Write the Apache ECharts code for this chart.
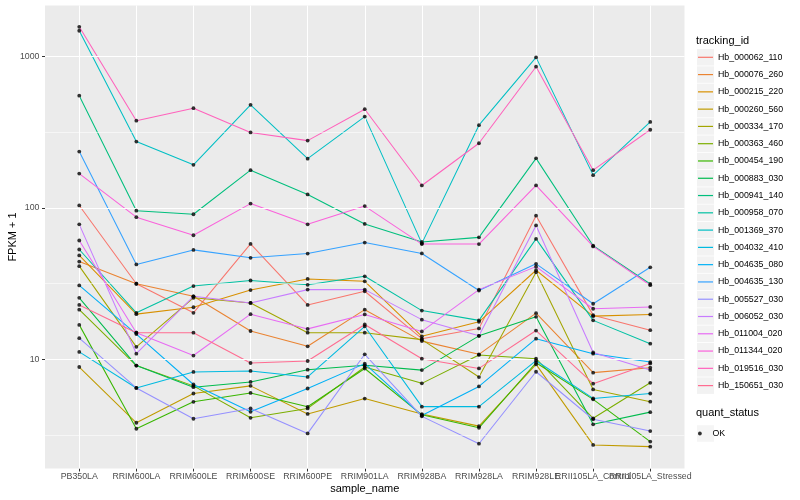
<!DOCTYPE html>
<html><head><meta charset="utf-8">
<script src="https://cdn.jsdelivr.net/npm/echarts/dist/echarts.min.js"></script>
<style>html,body{margin:0;padding:0;background:#fff}#c{width:800px;height:500px}</style>
</head><body><div id="c"></div>
<script>
const categories = ['PB350LA','RRIM600LA','RRIM600LE','RRIM600SE','RRIM600PE','RRIM901LA','RRIM928BA','RRIM928LA','RRIM928LE','RRII105LA_Control','RRII105LA_Stressed'];
const trackingIds = ['Hb_000062_110','Hb_000076_260','Hb_000215_220','Hb_000260_560','Hb_000334_170','Hb_000363_460','Hb_000454_190','Hb_000883_030','Hb_000941_140','Hb_000958_070','Hb_001369_370','Hb_004032_410','Hb_004635_080','Hb_004635_130','Hb_005527_030','Hb_006052_030','Hb_011004_020','Hb_011344_020','Hb_019516_030','Hb_150651_030'];

const Hb_000062_110 = [104, 31.6, 20.3, 57.9, 22.9, 28.2, 13.7, 16.0, 89, 19.6, 15.6];
const Hb_000076_260 = [44.3, 31.6, 26.1, 15.4, 12.2, 21.3, 13.2, 10.8, 20.2, 8.17, 8.8];
const Hb_000215_220 = [48.6, 19.9, 22.1, 28.7, 34.0, 32.8, 14.2, 17.7, 38.8, 19.3, 19.8];
const Hb_000260_560 = [8.9, 3.81, 5.95, 6.68, 4.36, 5.51, 4.35, 3.62, 9.26, 2.72, 2.65];
const Hb_000334_170 = [41.3, 12.1, 25.5, 23.6, 15.0, 15.0, 13.5, 7.64, 37.6, 6.33, 5.25];
const Hb_000363_460 = [21.3, 9.1, 6.68, 4.11, 4.74, 8.9, 6.94, 10.7, 10.1, 4.08, 7.0];
const Hb_000454_190 = [16.9, 3.48, 5.24, 6.0, 4.86, 8.7, 4.3, 3.53, 9.5, 5.44, 2.86];
const Hb_000883_030 = [25.5, 9.1, 6.55, 7.09, 8.55, 9.13, 8.49, 14.3, 19.1, 3.72, 4.48];
const Hb_000941_140 = [553, 96, 91, 178, 123, 78.5, 59.7, 64, 213, 56.4, 31.5];
const Hb_000958_070 = [53.2, 20.3, 30.5, 33.2, 31.1, 35.4, 21.0, 18.1, 62.5, 18.1, 12.7];
const Hb_001369_370 = [1484, 275, 193, 481, 212, 402, 58.4, 353, 990, 165, 371];
const Hb_004032_410 = [11.2, 6.47, 8.26, 8.38, 7.65, 16.5, 4.87, 4.87, 9.8, 5.52, 5.95];
const Hb_004635_080 = [30.8, 14.7, 6.82, 4.5, 6.42, 9.37, 4.25, 6.62, 13.7, 10.9, 9.6];
const Hb_004635_130 = [236, 42.4, 52.9, 46.9, 50.0, 59.1, 50.1, 28.5, 42.8, 23.3, 40.6];
const Hb_005527_030 = [13.8, 6.47, 4.05, 4.74, 3.24, 10.8, 4.2, 2.77, 8.28, 4.02, 3.36];
const Hb_006052_030 = [78, 10.9, 26.1, 23.6, 28.9, 28.9, 18.3, 14.3, 76.7, 11.1, 8.5];
const Hb_011004_020 = [61, 15.0, 10.6, 19.9, 15.9, 19.8, 15.3, 28.9, 41.0, 21.6, 22.2];
const Hb_011344_020 = [169, 87, 66.1, 107, 78, 103, 57.8, 57.8, 141, 55.8, 30.9];
const Hb_019516_030 = [1577, 378, 457, 316, 279, 450, 141, 268, 859, 178, 329];
const Hb_150651_030 = [22.9, 15.0, 15.0, 9.46, 9.75, 17.0, 10.1, 8.71, 15.5, 6.91, 9.4];

const seriesValues = [Hb_000062_110, Hb_000076_260, Hb_000215_220, Hb_000260_560, Hb_000334_170, Hb_000363_460, Hb_000454_190, Hb_000883_030, Hb_000941_140, Hb_000958_070, Hb_001369_370, Hb_004032_410, Hb_004635_080, Hb_004635_130, Hb_005527_030, Hb_006052_030, Hb_011004_020, Hb_011344_020, Hb_019516_030, Hb_150651_030];
const palette = ['#F8766D','#EA8331','#D89000','#C09B00','#A3A500','#7CAE00','#39B600','#00BB4E','#00BF7D','#00C1A3','#00BFC4','#00BAE0','#00B0F6','#35A2FF','#9590FF','#C77CFF','#E76BF3','#FA62DB','#FF62BC','#FF6C91'];
const yTickValues = [10, 100, 1000];
const yMinorValues = [3.1623, 31.623, 316.23];
const statusLevels = ['OK'];

const FONT = '"Liberation Sans", Arial, Helvetica, sans-serif';
const chart = echarts.init(document.getElementById('c'), null, {renderer: 'canvas'});

const lineSeries = trackingIds.map((id, i) => ({
  name: id, type: 'line', xAxisIndex: 0, yAxisIndex: 0,
  data: seriesValues[i], showSymbol: false, symbol: 'none', z: 3,
  color: palette[i],
  lineStyle: {color: palette[i], width: 1.05}, silent: true
}));
const points = [];
seriesValues.forEach(vals => vals.forEach((v, j) => points.push([categories[j], v])));

const option = {
  animation: false,
  backgroundColor: '#ffffff',
  textStyle: {fontFamily: FONT},
  title: [
    {text: 'tracking_id', left: 696, top: 35, padding: 0, textStyle: {fontSize: 11, fontWeight: 'normal', color: '#000', fontFamily: FONT}},
    {text: 'quant_status', left: 696, top: 407, padding: 0, textStyle: {fontSize: 11, fontWeight: 'normal', color: '#000', fontFamily: FONT}}
  ],
  grid: [
    {left: 50.7, right: 121.2, top: 5.5, bottom: 31.5, outerBoundsMode: 'none'},
    {left: 45, right: 115.5, top: 5.5, bottom: 31.5, show: true, backgroundColor: '#EBEBEB', borderWidth: 0, outerBoundsMode: 'none'}
  ],
  xAxis: [
    {type: 'category', gridIndex: 0, data: categories, boundaryGap: true,
     axisLine: {show: false}, splitLine: {show: false},
     axisTick: {show: true, alignWithLabel: true, length: 3, lineStyle: {color: '#333333', width: 1}},
     axisLabel: {interval: 0, hideOverlap: false, fontSize: 8.8, color: '#4D4D4D', margin: 3.5, fontFamily: FONT},
     name: 'sample_name', nameLocation: 'middle', nameGap: 15, nameMoveOverlap: false,
     nameTextStyle: {fontSize: 11, color: '#000', fontFamily: FONT}},
    {type: 'value', gridIndex: 1, min: 0, max: 1, show: false}
  ],
  yAxis: [
    {type: 'log', logBase: 10, gridIndex: 0, min: 1.9, max: 2180, show: false, splitLine: {show: false}},
    {type: 'log', logBase: 10, gridIndex: 1, min: 1.9, max: 2180,
     axisLine: {show: false}, splitLine: {show: false}, minorSplitLine: {show: false},
     axisTick: {show: true, length: 3, lineStyle: {color: '#333333', width: 1}, customValues: yTickValues},
     axisLabel: {fontSize: 8.8, color: '#4D4D4D', margin: 5.5, fontFamily: FONT, customValues: yTickValues,
                 formatter: v => String(Math.round(v))},
     name: 'FPKM + 1', nameLocation: 'middle', nameRotate: 90, nameGap: 27, nameMoveOverlap: false,
     nameTextStyle: {fontSize: 11, color: '#000', fontFamily: FONT}}
  ],
  legend: [
    {orient: 'vertical', left: 697, top: 49.05, padding: 0, itemGap: 0.78, itemWidth: 17, itemHeight: 16.5,
     icon: 'rect', selectedMode: false, formatter: () => '',
     itemStyle: {color: '#F2F2F2', borderWidth: 0},
     data: trackingIds.map(id => ({name: id, icon: 'rect', itemStyle: {color: '#F2F2F2'}}))},
    {orient: 'vertical', left: 698, top: 48.8, padding: 0, itemGap: 0.28, itemWidth: 15, itemHeight: 1.2,
     icon: 'rect', selectedMode: false,
     textStyle: {fontSize: 8.8, color: '#000', lineHeight: 17, fontFamily: FONT},
     data: trackingIds.map((id, i) => ({name: id, icon: 'rect', itemStyle: {color: palette[i], borderWidth: 0}}))},
    {orient: 'vertical', left: 697, top: 425.25, padding: 0, itemWidth: 17, itemHeight: 16.5,
     icon: 'rect', selectedMode: false, formatter: () => '',
     itemStyle: {color: '#F2F2F2', borderWidth: 0},
     data: statusLevels.map(s => ({name: s, icon: 'rect', itemStyle: {color: '#F2F2F2'}}))},
    {orient: 'vertical', left: 698, top: 425, padding: 0, itemWidth: 15, itemHeight: 3.8,
     icon: 'circle', selectedMode: false,
     textStyle: {fontSize: 8.8, color: '#000', lineHeight: 17, fontFamily: FONT},
     data: statusLevels.map(s => ({name: s, icon: 'circle', itemStyle: {color: '#000000', borderWidth: 0}}))}
  ],
  series: [
    {name: '_hgrid', type: 'line', xAxisIndex: 1, yAxisIndex: 1, data: [], z: 1, silent: true,
     markLine: {silent: true, symbol: ['none', 'none'], label: {show: false}, animation: false,
       data: yTickValues.map(v => ({yAxis: v, lineStyle: {color: '#FFFFFF', width: 1.07, type: 'solid'}}))
         .concat(yMinorValues.map(v => ({yAxis: v, lineStyle: {color: '#FFFFFF', width: 0.55, type: 'solid'}})))}},
    {name: '_vgrid', type: 'line', xAxisIndex: 0, yAxisIndex: 0, data: [], z: 1, silent: true,
     markLine: {silent: true, symbol: ['none', 'none'], label: {show: false}, animation: false,
       data: categories.map(c => ({xAxis: c, lineStyle: {color: '#FFFFFF', width: 1.07, type: 'solid'}}))}}
  ].concat(lineSeries).concat([
    {name: 'OK', type: 'scatter', xAxisIndex: 0, yAxisIndex: 0, data: points, symbol: 'circle', symbolSize: 3.8,
     itemStyle: {color: '#000000'}, z: 6, silent: true}
  ])
};
chart.setOption(option);
</script>
</body></html>
